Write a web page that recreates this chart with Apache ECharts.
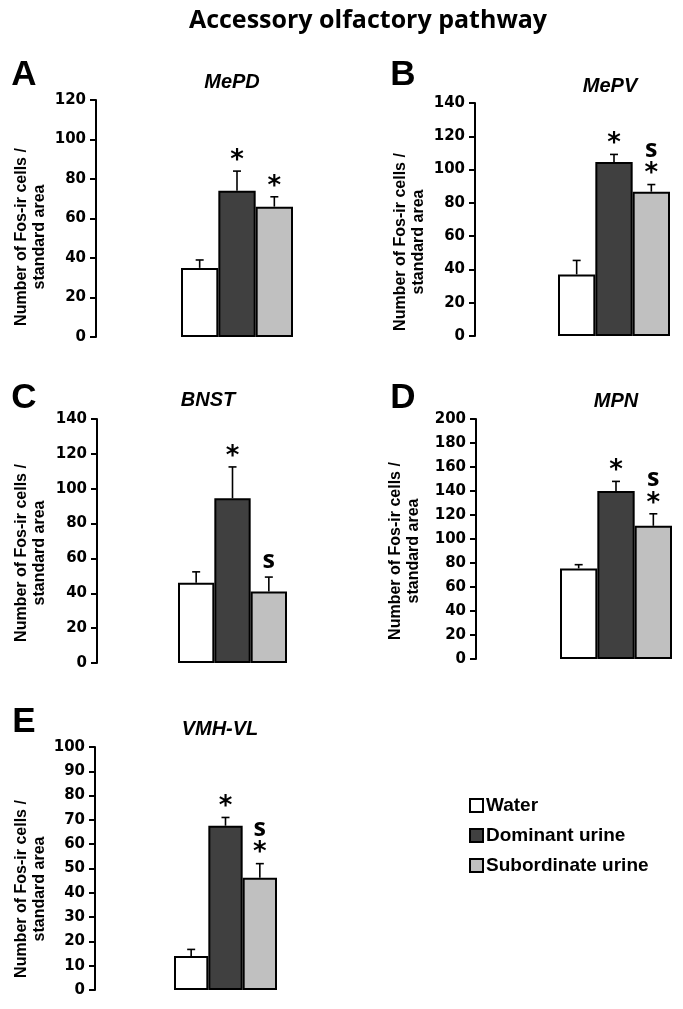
<!DOCTYPE html>
<html>
<head>
<meta charset="utf-8">
<script src="https://cdn.jsdelivr.net/npm/echarts@6/dist/echarts.min.js"></script>
<style>
html,body{margin:0;padding:0;background:#fff;}
#c{width:683px;height:1009px;}
</style>
</head>
<body>
<div id="c"></div>
<script>
// ---------- data ----------
const mainTitle = 'Accessory olfactory pathway';
const panelLetters = ['A', 'B', 'C', 'D', 'E'];
const regions = ['MePD', 'MePV', 'BNST', 'MPN', 'VMH-VL'];
const groups = ['Water', 'Dominant urine', 'Subordinate urine'];
const yLabel = 'Number of Fos-ir cells /\nstandard area';

const waterMean = [35, 37, 46, 75.5, 14];
const waterErr  = [4, 8.4, 6.3, 3.1, 2.7];
const domMean   = [74, 104.5, 94.5, 140, 67.6];
const domErr    = [10, 4.6, 18, 8, 3.4];
const subMean   = [66, 86.7, 41, 111, 46.2];
const subErr    = [5, 4.3, 8.3, 10, 5.8];

const waterSig  = ['', '', '', '', ''];
const domSig    = ['*', '*', '*', '*', '*'];
const subSig    = ['*', '*', '', '*', '*'];
const subS      = ['', 's', 's', 's', 's'];

const yMax  = [120, 140, 140, 200, 100];
const yStep = [20, 20, 20, 20, 10];

// ---------- layout ----------
const layout = [
  {axisX: 96,  barL: 181, barW: 112, top: 100, bottom: 337, tX: 232, tY: 82,  lX: 24,  lY: 75,  yX: 31,  yY: 237},
  {axisX: 475, barL: 558, barW: 112, top: 103, bottom: 336, tX: 610, tY: 86,  lX: 403, lY: 75,  yX: 410, yY: 242},
  {axisX: 97,  barL: 178, barW: 109, top: 419, bottom: 663, tX: 208, tY: 400, lX: 24,  lY: 398, yX: 31,  yY: 553},
  {axisX: 476, barL: 560, barW: 112, top: 419, bottom: 659, tX: 616, tY: 401, lX: 403, lY: 398, yX: 405, yY: 551},
  {axisX: 95,  barL: 174, barW: 103, top: 747, bottom: 990, tX: 220, tY: 729, lX: 24,  lY: 722, yX: 31,  yY: 889}
];
const colors = ['#ffffff', '#404040', '#c0c0c0'];
const means = [waterMean, domMean, subMean];
const errs = [waterErr, domErr, subErr];
const sigs = [waterSig, domSig, subSig];
const sFlags = [null, null, subS];

const grids = [], xAxes = [], yAxes = [], series = [], graphics = [];

graphics.push({type: 'text', x: 368, y: 21, style: {text: mainTitle, font: 'bold 25px "Open Sans"', fill: '#000', textAlign: 'center', textVerticalAlign: 'middle'}});

layout.forEach((L, p) => {
  grids.push({left: L.barL, top: L.top, width: L.barW, height: L.bottom - L.top});
  xAxes.push({type: 'category', gridIndex: p, data: [regions[p]], show: false});
  yAxes.push({
    type: 'value', gridIndex: p, min: 0, max: yMax[p], interval: yStep[p],
    offset: L.barL - L.axisX,
    axisLine: {show: true, lineStyle: {color: '#000', width: 2}},
    axisTick: {show: true, length: 6, lineStyle: {color: '#000', width: 2}},
    axisLabel: {color: '#000', fontFamily: 'DejaVu Sans', fontWeight: 'bold', fontSize: 15, margin: 10},
    splitLine: {show: false}
  });
  groups.forEach((g, gi) => {
    series.push({
      type: 'bar', name: g, xAxisIndex: p, yAxisIndex: p,
      barGap: '0%', barCategoryGap: '0%',
      itemStyle: {color: colors[gi], borderColor: '#000', borderWidth: 2},
      data: [means[gi][p]], silent: true, z: 2
    });
  });
  // error bars + significance marks
  series.push({
    type: 'custom', xAxisIndex: p, yAxisIndex: p, z: 5, silent: true,
    encode: {x: 0, y: 1},
    data: groups.map((g, gi) => [0, means[gi][p], gi, errs[gi][p]]),
    renderItem: function (params, api) {
      const gi = api.value(2);
      const m = api.value(1), e = api.value(3);
      const band = api.size([1, 0])[0];
      const base = api.coord([0, m]);
      const topP = api.coord([0, m + e]);
      const x = base[0] + (gi - 1) * band / 3;
      const ch = [
        {type: 'line', shape: {x1: x, y1: base[1], x2: x, y2: topP[1]}, style: {stroke: '#000', lineWidth: 1.6}},
        {type: 'line', shape: {x1: x - 4, y1: topP[1], x2: x + 4, y2: topP[1]}, style: {stroke: '#000', lineWidth: 1.6}}
      ];
      const star = sigs[gi][p];
      const s = sFlags[gi] ? sFlags[gi][p] : '';
      let y = topP[1] - 10;
      if (star) {
        ch.push({type: 'text', style: {text: star, x: x, y: y, font: 'bold 26px "DejaVu Sans"', fill: '#000', textAlign: 'center', textVerticalAlign: 'middle'}});
        y -= 25;
      } else {
        y -= 6;
      }
      if (s) {
        ch.push({type: 'text', style: {text: s, x: x, y: y, font: 'bold 25px "Open Sans"', fill: '#000', textAlign: 'center', textVerticalAlign: 'middle'}});
      }
      return {type: 'group', children: ch};
    }
  });
  graphics.push({type: 'text', x: L.lX, y: L.lY, style: {text: panelLetters[p], font: 'bold 35px "Liberation Sans"', fill: '#000', textAlign: 'center', textVerticalAlign: 'middle'}});
  graphics.push({type: 'text', x: L.tX, y: L.tY, style: {text: regions[p], font: 'italic bold 20px "Liberation Sans"', fill: '#000', textAlign: 'center', textVerticalAlign: 'middle'}});
  graphics.push({type: 'text', x: L.yX, y: L.yY, rotation: Math.PI / 2, style: {text: yLabel, font: 'bold 16px "Liberation Sans"', lineHeight: 18, fill: '#000', textAlign: 'center', textVerticalAlign: 'middle'}});
});

const chart = echarts.init(document.getElementById('c'), null, {renderer: 'canvas'});
chart.setOption({
  animation: false,
  backgroundColor: '#fff',
  grid: grids,
  xAxis: xAxes,
  yAxis: yAxes,
  legend: {
    data: groups, orient: 'vertical', left: 464, top: 791,
    itemWidth: 13, itemHeight: 13, itemGap: 11, icon: 'rect',
    textStyle: {color: '#000', fontFamily: 'Liberation Sans', fontWeight: 'bold', fontSize: 19, padding: [0, 0, 0, -2]},
    selectedMode: false
  },
  graphic: {elements: graphics},
  series: series
});
</script>
</body>
</html>
